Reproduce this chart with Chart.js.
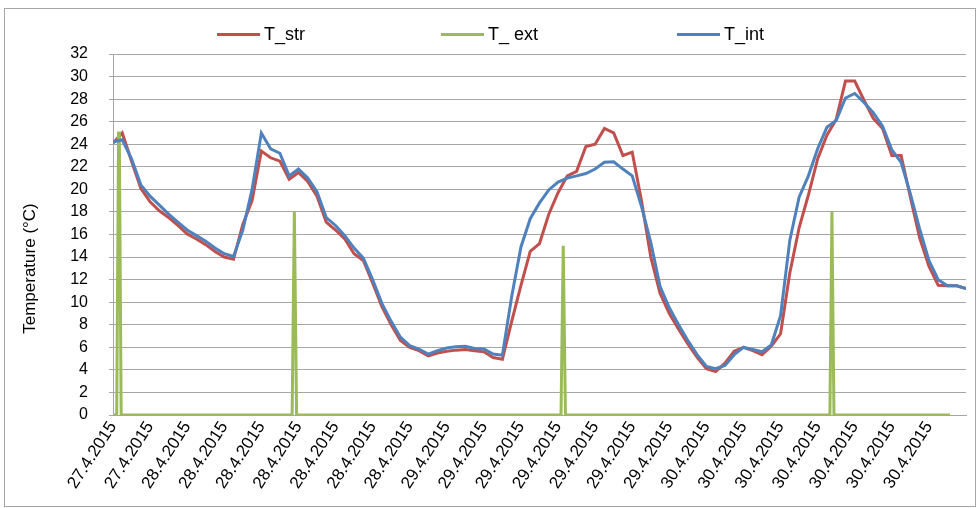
<!DOCTYPE html>
<html>
<head>
<meta charset="utf-8">
<script src="https://cdn.jsdelivr.net/npm/chart.js@4/dist/chart.umd.min.js"></script>
<style>
  html, body { margin: 0; padding: 0; background: #fff; }
  #wrap { position: relative; width: 979px; height: 508px; }
  #frame { position: absolute; left: 4px; top: 8px; width: 970px; height: 497px; border: 1px solid #a6a6a6; }
  canvas { position: absolute; left: 0; top: 0; }
  #legend { position: absolute; top: 24px; left: 217px; display: flex; font: 18px "Liberation Sans", sans-serif; color: #000; }
  #legend .item { display: flex; align-items: center; }
  #legend .swatch { width: 43px; height: 3px; margin-right: 4px; }
</style>
</head>
<body>
<div id="wrap">
  <div id="frame"></div>
  <canvas id="tempChart" width="979" height="508"></canvas>
  <div id="legend"></div>
</div>
<script>
// tick labels of the category axis, one per label interval
const dateLabels = [
  "27.4.2015", "27.4.2015",
  "28.4.2015", "28.4.2015", "28.4.2015", "28.4.2015", "28.4.2015", "28.4.2015", "28.4.2015",
  "29.4.2015", "29.4.2015", "29.4.2015", "29.4.2015", "29.4.2015", "29.4.2015", "29.4.2015",
  "30.4.2015", "30.4.2015", "30.4.2015", "30.4.2015", "30.4.2015", "30.4.2015", "30.4.2015"
];

// samples are taken 4 per label interval
const STEP = 0.25;

const tStr = [
  24.1, 25.0, 22.5, 20.1, 18.9, 18.1, 17.5, 16.8, 16.05, 15.6,
  15.1, 14.5, 14.0, 13.8, 16.9, 19.0, 23.4, 22.8, 22.5, 20.9,
  21.5, 20.7, 19.4, 17.1, 16.4, 15.6, 14.3, 13.7, 11.7, 9.6,
  8.0, 6.6, 6.0, 5.7, 5.25, 5.5, 5.65, 5.75, 5.8, 5.7,
  5.6, 5.1, 4.95, 8.3, 11.5, 14.5, 15.2, 17.8, 19.7, 21.2,
  21.6, 23.8, 24.0, 25.4, 25.0, 23.0, 23.3, 19.0, 14.0, 10.8,
  9.0, 7.6, 6.3, 5.1, 4.1, 3.85, 4.6, 5.65, 6.0, 5.7,
  5.35, 6.1, 7.2, 12.6, 16.6, 19.5, 22.7, 24.8, 26.2, 29.6,
  29.6, 27.9, 26.3, 25.4, 23.0, 23.0, 19.3, 15.7, 13.2, 11.5,
  11.45, 11.45, 11.2
];

const tInt = [
  24.2, 24.4, 22.7, 20.4, 19.4, 18.6, 17.8, 17.1, 16.4, 15.9,
  15.4, 14.8, 14.3, 14.05, 16.4, 20.0, 25.0, 23.6, 23.2, 21.2,
  21.8, 21.0, 19.8, 17.5, 16.8, 15.9, 14.8, 13.9, 12.0, 9.9,
  8.3, 6.9, 6.15, 5.85, 5.4, 5.7, 5.95, 6.05, 6.1, 5.9,
  5.85, 5.4, 5.3, 10.5, 14.9, 17.4, 18.8, 19.95, 20.65, 21.0,
  21.2, 21.4, 21.8, 22.4, 22.45, 21.8, 21.2, 18.5, 15.3, 11.4,
  9.5, 8.0, 6.6, 5.35, 4.3, 4.1, 4.4, 5.35, 6.0, 5.8,
  5.6, 6.2, 8.8, 15.5, 19.3, 21.2, 23.6, 25.5, 26.1, 28.1,
  28.5, 27.7, 26.8, 25.6, 23.5, 22.4, 19.6, 16.5, 13.7, 12.0,
  11.45, 11.45, 11.2
];

// T_ext is zero except short spikes; times in label intervals
const tExtTime  = [0, 0.10, 0.15, 0.17, 0.22, 4.83, 4.89, 4.95, 12.08, 12.14, 12.20, 19.33, 19.385, 19.44, 22.57];
const tExtValue = [0, 0,    25,   25,   0,    0,    18,   0,    0,     15,    0,     0,     18,     0,     0];

const yTitle = "Temperature (°C)";
const FONT = '"Liberation Sans", sans-serif';

const series = (vals) => vals.map((v, i) => ({ x: i * STEP, y: v }));

// y axis title drawn a bit below the plot centre, as in the original
const yTitlePlugin = {
  id: "yTitle",
  afterDraw(chart) {
    const { ctx, chartArea } = chart;
    ctx.save();
    ctx.translate(30, (chartArea.top + chartArea.bottom) / 2 + 34);
    ctx.rotate(-Math.PI / 2);
    ctx.font = "17px " + FONT;
    ctx.fillStyle = "#000";
    ctx.textAlign = "center";
    ctx.textBaseline = "middle";
    ctx.fillText(yTitle, 0, 0);
    ctx.restore();
  },
};

const ctx = document.getElementById("tempChart").getContext("2d");
const chart = new Chart(ctx, {
  type: "line",
  data: {
    datasets: [
      {
        label: "T_str",
        data: series(tStr),
        borderColor: "#C0504D",
        borderWidth: 3,
        pointRadius: 0,
        order: 3,
      },
      {
        label: "T_ ext",
        data: tExtTime.map((t, i) => ({ x: t, y: tExtValue[i] })),
        borderColor: "#9BBB59",
        borderWidth: 3,
        pointRadius: 0,
        order: 2,
      },
      {
        label: "T_int",
        data: series(tInt),
        borderColor: "#4F81BD",
        borderWidth: 3,
        pointRadius: 0,
        order: 1,
      },
    ],
  },
  options: {
    responsive: false,
    animation: false,
    layout: { padding: { top: 54, right: 13, left: 0, bottom: 0 } },
    plugins: {
      legend: { display: false },
      tooltip: { enabled: false },
    },
    scales: {
      x: {
        type: "linear",
        min: 0,
        max: 23,
        grid: { display: false, drawTicks: false },
        border: { color: "#a6a6a6" },
        afterBuildTicks: (axis) => {
          axis.ticks = dateLabels.map((_, j) => ({ value: j }));
        },
        afterFit: (axis) => { axis.height = 93; },
        ticks: {
          autoSkip: false,
          minRotation: 57,
          maxRotation: 57,
          padding: 3,
          color: "#000",
          font: { family: FONT, size: 17 },
          callback: (v) => dateLabels[Math.round(v)],
        },
      },
      y: {
        min: 0,
        max: 32,
        grid: { color: "#a6a6a6", tickLength: 4 },
        border: { color: "#a6a6a6" },
        afterFit: (axis) => { axis.width = 113; },
        ticks: {
          stepSize: 2,
          padding: 21,
          color: "#000",
          font: { family: FONT, size: 16 },
        },
      },
    },
  },
  plugins: [yTitlePlugin],
});

// html legend built from the datasets, spaced like the original
const legendWidths = [224, 236, null];
const legendEl = document.getElementById("legend");
chart.data.datasets.forEach((ds, i) => {
  const item = document.createElement("div");
  item.className = "item";
  if (legendWidths[i]) item.style.width = legendWidths[i] + "px";
  const sw = document.createElement("span");
  sw.className = "swatch";
  sw.style.background = ds.borderColor;
  item.appendChild(sw);
  item.appendChild(document.createTextNode(ds.label));
  legendEl.appendChild(item);
});
</script>
</body>
</html>
